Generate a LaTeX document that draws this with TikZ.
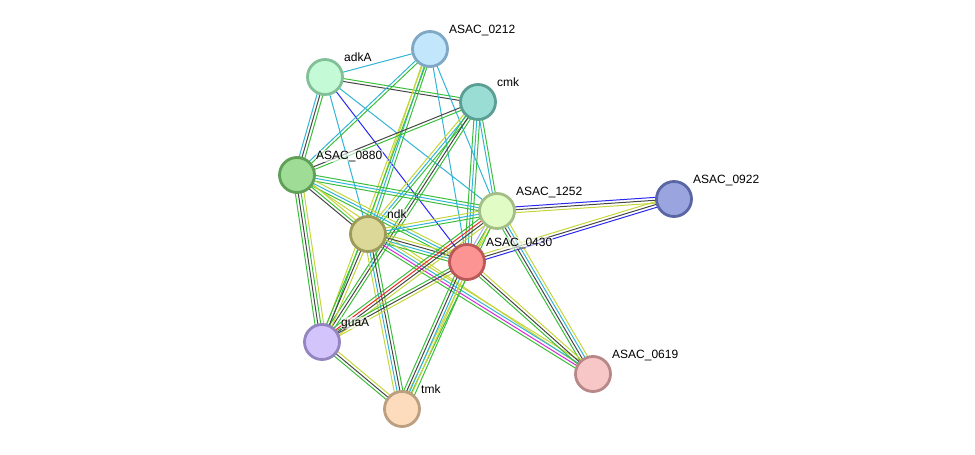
\documentclass[tikz,border=0pt]{standalone}
\usepackage{fontspec}
\setmainfont{Liberation Sans}
\usepackage{tikz}
\usetikzlibrary{calc,backgrounds}
\usepackage{xcolor}
\definecolor{nbh}{RGB}{60,190,60}
\definecolor{coexp}{RGB}{70,70,70}
\definecolor{dbase}{RGB}{50,180,215}
\definecolor{txtm}{RGB}{196,214,60}
\definecolor{cooc}{RGB}{40,40,240}
\definecolor{expm}{RGB}{215,40,215}
\definecolor{fusn}{RGB}{240,40,40}
\definecolor{homl}{RGB}{170,170,255}

\tikzset{
  prot/.style={circle, minimum size=35pt, line width=2.8pt, inner sep=0pt},
  plabel/.style={anchor=base west, font=\fontsize{12}{14}\selectfont, inner sep=0.5pt, fill=white, fill opacity=0.6, text opacity=1},
  link/.style={line width=1pt}
}

% parallel evidence lines between two proteins
\newcommand{\linkset}[3]{%
  \foreach \c [count=\n] in {#3}{\xdef\nlinks{\n}}%
  \foreach \c [count=\i] in {#3}{%
    \pgfmathsetmacro\off{(\i-(\nlinks+1)/2)*2.9}%
    \draw[link,draw=\c] ($(#1.center)!\off pt!90:(#2.center)$) -- ($(#2.center)!\off pt!-90:(#1.center)$);
  }}

\begin{document}
\begin{tikzpicture}[x=1pt,y=-1pt]
  \useasboundingbox (0,0) rectangle (975,455);

  \node[prot, fill={rgb,255:red,197;green,250;blue,214}, draw={rgb,255:red,130;green,192;blue,152}] (adkA) at (325,77) {};
  \node[prot, fill={rgb,255:red,194;green,230;blue,251}, draw={rgb,255:red,127;green,168;blue,196}] (a0212) at (430,49) {};
  \node[prot, fill={rgb,255:red,153;green,221;blue,213}, draw={rgb,255:red,90;green,158;blue,148}] (cmk) at (478,102) {};
  \node[prot, fill={rgb,255:red,159;green,220;blue,150}, draw={rgb,255:red,94;green,160;blue,85}] (a0880) at (297,175) {};
  \node[prot, fill={rgb,255:red,225;green,252;blue,196}, draw={rgb,255:red,164;green,190;blue,136}] (a1252) at (497,211) {};
  \node[prot, fill={rgb,255:red,154;green,165;blue,224}, draw={rgb,255:red,90;green,102;blue,164}] (a0922) at (674,199) {};
  \node[prot, fill={rgb,255:red,220;green,216;blue,152}, draw={rgb,255:red,158;green,154;blue,90}] (ndk) at (368,234) {};
  \node[prot, fill={rgb,255:red,252;green,148;blue,148}, draw={rgb,255:red,187;green,88;blue,88}] (a0430) at (467,262) {};
  \node[prot, fill={rgb,255:red,212;green,196;blue,252}, draw={rgb,255:red,148;green,132;blue,192}] (guaA) at (322,342) {};
  \node[prot, fill={rgb,255:red,253;green,220;blue,190}, draw={rgb,255:red,188;green,159;blue,128}] (tmk) at (402,409) {};
  \node[prot, fill={rgb,255:red,247;green,198;blue,198}, draw={rgb,255:red,184;green,136;blue,136}] (a0619) at (593,374) {};

  \begin{pgfonlayer}{background}
    \linkset{adkA}{a0212}{dbase}
    \linkset{adkA}{cmk}{coexp,nbh}
    \linkset{adkA}{a0880}{dbase,coexp,nbh}
    \linkset{adkA}{ndk}{dbase}
    \linkset{adkA}{a0430}{cooc}
    \linkset{adkA}{a1252}{dbase}
    \linkset{a0212}{a0880}{dbase,nbh}
    \linkset{a0212}{ndk}{txtm,dbase,nbh}
    \linkset{a0212}{guaA}{txtm,nbh}
    \linkset{a0212}{a1252}{dbase}
    \linkset{a0212}{a0430}{dbase}
    \linkset{cmk}{a0880}{coexp,nbh}
    \linkset{cmk}{ndk}{txtm,dbase,nbh}
    \linkset{cmk}{guaA}{nbh,coexp,nbh}
    \linkset{cmk}{a1252}{dbase,nbh}
    \linkset{cmk}{a0430}{nbh,dbase,nbh}
    \linkset{a0880}{a1252}{nbh,dbase,nbh}
    \linkset{a0880}{ndk}{coexp,nbh,txtm}
    \linkset{a0880}{a0430}{nbh,dbase,txtm}
    \linkset{a0880}{guaA}{nbh,coexp,nbh,txtm}
    \linkset{a0880}{a0619}{txtm}
    \linkset{ndk}{a1252}{nbh,dbase,txtm}
    \linkset{ndk}{a0430}{nbh,dbase,coexp,txtm}
    \linkset{ndk}{guaA}{nbh,coexp,txtm}
    \linkset{ndk}{tmk}{txtm,dbase,coexp,nbh}
    \linkset{ndk}{a0619}{nbh,expm,dbase,txtm}
    \linkset{a1252}{a0922}{txtm,coexp,cooc}
    \linkset{a0430}{a0922}{cooc,coexp,txtm}
    \linkset{a1252}{a0430}{homl,nbh,txtm}
    \linkset{a1252}{guaA}{nbh,fusn,coexp,txtm}
    \linkset{a1252}{tmk}{txtm,nbh}
    \linkset{a1252}{a0619}{nbh,coexp,dbase,txtm}
    \linkset{a0430}{guaA}{nbh,coexp,txtm}
    \linkset{a0430}{tmk}{nbh,coexp,dbase,txtm,nbh}
    \linkset{a0430}{a0619}{nbh,coexp,txtm}
    \linkset{guaA}{tmk}{nbh,coexp,txtm}
  \end{pgfonlayer}

  \node[plabel] (ladkA) at (343.5,61) {adkA};
  \node[plabel] (l0212) at (448.5,33) {ASAC\_0212};
  \node[plabel] (lcmk) at (496.5,86) {cmk};
  \node[plabel] (l0880) at (315.5,159) {ASAC\_0880};
  \node[plabel] (l1252) at (515.5,195) {ASAC\_1252};
  \node[plabel] (l0922) at (692.5,183) {ASAC\_0922};
  \node[plabel] (lndk) at (386.5,218) {ndk};
  \node[plabel] (l0430) at (485.5,246) {ASAC\_0430};
  \node[plabel] (lguaA) at (340.5,326) {guaA};
  \node[plabel] (ltmk) at (420.5,393) {tmk};
  \node[plabel] (l0619) at (611.5,358) {ASAC\_0619};
\end{tikzpicture}
\end{document}
